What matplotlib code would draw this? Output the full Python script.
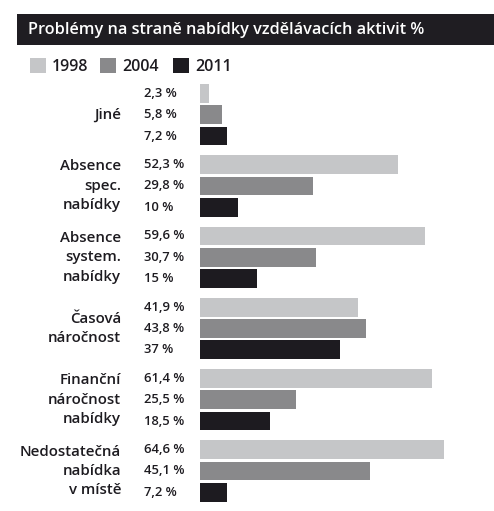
import matplotlib
matplotlib.use("Agg")
import matplotlib.pyplot as plt
from matplotlib.patches import Rectangle
from matplotlib import transforms

plt.rcParams['font.family'] = ['Open Sans', 'DejaVu Sans']

title = "Problémy na straně nabídky vzdělávacích aktivit %"
categories = ["Jiné", "Absence\nspec.\nnabídky", "Absence\nsystem.\nnabídky",
              "Časová\nnáročnost", "Finanční\nnáročnost\nnabídky",
              "Nedostatečná\nnabídka\nv místě"]
years = ["1998", "2004", "2011"]
v1998 = [2.3, 52.3, 59.6, 41.9, 61.4, 64.6]
v2004 = [5.8, 29.8, 30.7, 43.8, 25.5, 45.1]
v2011 = [7.2, 10, 15, 37, 18.5, 7.2]
colors = ["#c5c6c8", "#89898b", "#1d1b20"]

W, H = 494, 511
fig = plt.figure(figsize=(W / 100, H / 100), dpi=100)

def fx(px):
    return px / W

def fy(py):
    return 1 - py / H

# title bar
fig.add_artist(Rectangle((fx(17), fy(45)), fx(W - 17), 31 / H,
                         transform=fig.transFigure, color="#1f1d22", lw=0))
fig.text(fx(28), fy(30), title, color="white", fontsize=11.7, fontweight="semibold",
         va="center", ha="left")

# legend
leg_x = [30, 100, 173]
for lx, yr, c in zip(leg_x, years, colors):
    fig.add_artist(Rectangle((fx(lx), fy(73)), 16 / W, 15 / H,
                             transform=fig.transFigure, color=c, lw=0))
    fig.text(fx(lx + 22), fy(67), yr, fontsize=11.5, fontweight="semibold",
             color="#1d1b20", va="center", ha="left")

# bars
scale = 3.78  # px per percent
ax = fig.add_axes([fx(200), 0, (W - 200) / W, 1])
ax.set_xlim(0, (W - 200) / scale)
ax.set_ylim(H, 0)
ax.axis("off")

top0, gstride, rstride, bh = 84, 71.26, 21.3, 18.8
series = [v1998, v2004, v2011]
lab_tr = transforms.blended_transform_factory(fig.transFigure, ax.transData)

def fmt(v):
    s = f"{v:g}".replace(".", ",")
    return s + " %"

for i, cat in enumerate(categories):
    gtop = top0 + gstride * i
    for j, vals in enumerate(series):
        yc = gtop + rstride * j + bh / 2
        ax.barh(yc, vals[i], height=bh, color=colors[j], lw=0)
        ax.text(fx(144), yc, fmt(vals[i]), transform=lab_tr, fontsize=9.4,
                fontweight="semibold", color="#1d1b20", va="center", ha="left")
    gc = gtop + (rstride * 2 + bh) / 2
    ax.text(fx(121), gc, cat, transform=lab_tr, fontsize=10.8, fontweight="semibold",
            color="#1d1b20", va="center", ha="right", multialignment="right",
            linespacing=1.5)

fig.savefig("out.png", dpi=100)
